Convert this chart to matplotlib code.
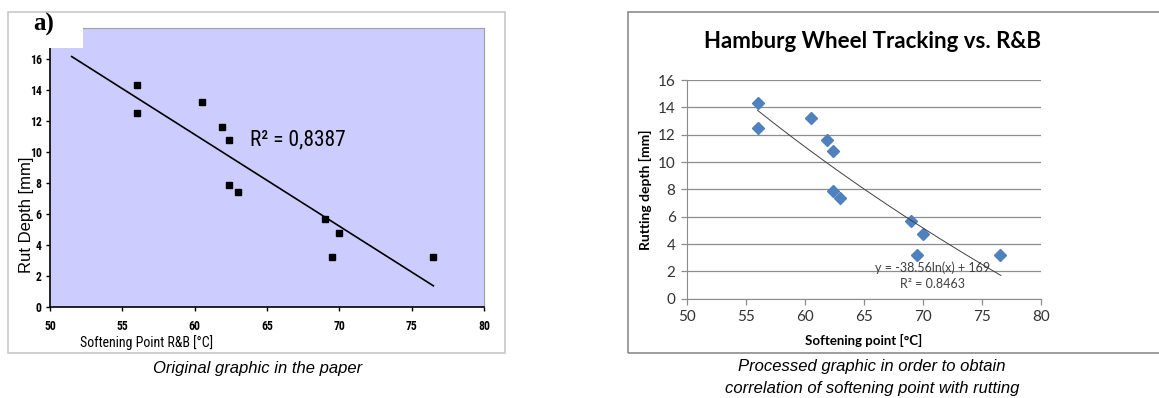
import numpy as np
import matplotlib
matplotlib.use("Agg")
import matplotlib.pyplot as plt
from matplotlib.patches import Rectangle

# softening point R&B [°C] vs. Hamburg rut depth [mm]
soft_point = [56.0, 56.0, 60.5, 61.9, 62.4, 62.4, 63.0, 69.0, 70.0, 69.5, 76.5]
rut_depth = [14.3, 12.5, 13.2, 11.6, 10.8, 7.85, 7.4, 5.7, 4.75, 3.2, 3.2]

x_ticks = [50, 55, 60, 65, 70, 75, 80]
y_ticks = [0, 2, 4, 6, 8, 10, 12, 14, 16]

r2_linear = "0,8387"
log_a, log_b = -38.56, 169
r2_log = "0.8463"

W, H = 1159, 398
fig = plt.figure(figsize=(W / 100, H / 100), dpi=100)


def box(x0, y0, x1, y1):
    # pixel box (top-left origin) -> figure fraction [l, b, w, h]
    return [x0 / W, 1 - y1 / H, (x1 - x0) / W, (y1 - y0) / H]


def frame(x0, y0, x1, y1, **kw):
    l, b, w, h = box(x0, y0, x1, y1)
    fig.patches.append(Rectangle((l, b), w, h, transform=fig.transFigure, **kw))


narrow = ["Roboto Condensed", "Liberation Sans Narrow", "Liberation Sans"]
calib = ["Lato", "DejaVu Sans"]

# ---- left: original graphic ----
frame(8, 12, 505, 353, fill=False, edgecolor="#c8c8c8", lw=1.2)
ax1 = fig.add_axes(box(50, 28, 484, 307))
ax1.set_facecolor("#ccccff")
ax1.plot(soft_point, rut_depth, "s", color="black", ms=4.5)
k, c = np.polyfit(soft_point, rut_depth, 1)
xl = np.array([51.5, 76.5])
ax1.plot(xl, k * xl + c, color="black", lw=1.2)
ax1.text(63.8, 10.8, "R² = " + r2_linear, family=narrow, fontsize=15.5,
         ha="left", va="center")
ax1.set_xlim(50, 80)
ax1.set_ylim(0, 18)
ax1.set_xticks(x_ticks)
ax1.set_yticks(y_ticks)
for s in ("top", "right"):
    ax1.spines[s].set_color("#a0a0a0")
    ax1.spines[s].set_linewidth(0.8)
for s in ("left", "bottom"):
    ax1.spines[s].set_linewidth(1.2)
ax1.tick_params(length=3, width=1, labelsize=8.5, pad=6)
ax1.tick_params(axis="y", pad=3)
for t in ax1.get_xticklabels() + ax1.get_yticklabels():
    t.set_family(narrow)
    t.set_fontweight("bold")

# white corner holding the panel letter
frame(9, 13, 83, 48, facecolor="white", edgecolor="none", zorder=5)
fig.text(33 / W, 1 - 24 / H, "a)", family=["Liberation Serif"], fontweight="bold",
         fontsize=18, ha="left", va="center", zorder=6)
fig.text(27 / W, 1 - 215 / H, "Rut Depth [mm]", family=["Liberation Sans"],
         fontsize=12, rotation=90, ha="center", va="center")
fig.text(80 / W, 1 - 343 / H, "Softening Point R&B [°C]", family=narrow,
         fontsize=10, ha="left", va="center")
fig.text(258 / W, 1 - 368 / H, "Original graphic in the paper",
         family=["Liberation Sans"], style="italic", fontsize=12,
         ha="center", va="center")

# ---- right: Excel-style reprocessed graphic ----
frame(628, 12, 1162, 353, fill=False, edgecolor="#8c8c8c", lw=1.2)
ax2 = fig.add_axes(box(686.7, 80, 1041, 298.7))
ax2.grid(axis="y", color="#8c8c8c", lw=0.9)
ax2.set_axisbelow(True)
ax2.plot(soft_point, rut_depth, "D", color="#4f81bd", ms=6, mec="#4f81bd")
xr = np.linspace(56.0, 76.6, 60)
ax2.plot(xr, log_a * np.log(xr) + log_b, color="#404040", lw=0.7)
ax2.text(70.8, 2.3, "y = %.2fln(x) + %d" % (log_a, log_b), family=calib,
         fontsize=9, ha="center", va="center", color="#404040")
ax2.text(70.8, 1.05, "R² = " + r2_log, family=calib, fontsize=9,
         ha="center", va="center", color="#404040")
ax2.set_xlim(50, 80)
ax2.set_ylim(0, 16)
ax2.set_xticks(x_ticks)
ax2.set_yticks(y_ticks)
for s in ("top", "right"):
    ax2.spines[s].set_visible(False)
for s in ("left", "bottom"):
    ax2.spines[s].set_color("#8c8c8c")
ax2.tick_params(length=4, width=0.9, color="#8c8c8c", labelsize=11,
                labelcolor="#333333", pad=4)
for t in ax2.get_xticklabels() + ax2.get_yticklabels():
    t.set_family(calib)
ax2.set_xlabel("Softening point [°C]", family=calib, fontweight="bold",
               fontsize=9.5, labelpad=7)
ax2.set_ylabel("Rutting depth [mm]", family=calib, fontweight="bold",
               fontsize=10, labelpad=4)
fig.text(872 / W, 1 - 42 / H, "Hamburg Wheel Tracking vs. R&B", family=calib,
         fontweight="bold", fontsize=16, ha="center", va="center")
fig.text(872 / W, 1 - 366 / H, "Processed graphic in order to obtain",
         family=["Liberation Sans"], style="italic", fontsize=12,
         ha="center", va="center")
fig.text(872 / W, 1 - 388 / H, "correlation of softening point with rutting",
         family=["Liberation Sans"], style="italic", fontsize=12,
         ha="center", va="center")

fig.savefig("out.png", dpi=100)
